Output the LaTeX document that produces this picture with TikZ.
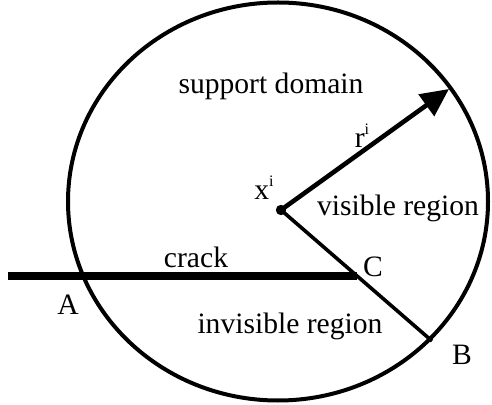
\documentclass[tikz,border=0pt]{standalone}
\usepackage{fontspec}
\setmainfont{Liberation Serif}
\usetikzlibrary{arrows.meta, positioning}

\newcommand{\supi}{\raisebox{0.95ex}{\fontsize{8}{8}\selectfont i}}

\begin{document}
\begin{tikzpicture}[
  x=0.5pt, y=-0.5pt,
  >={Triangle[length=14pt, width=13pt]},
  font=\fontsize{14.8}{16}\selectfont,
  lbl/.style={inner sep=1pt},
  supportline/.style={line width=2pt},
  crackline/.style={line width=4.2pt},
  ray/.style={->, line width=2.3pt},
  bline/.style={line width=1.8pt},
]
  \useasboundingbox (0,0) rectangle (492,405);

  % Support domain
  \draw[supportline] (278,201.5) ellipse [x radius=105pt, y radius=99.5pt];

  % Points
  \coordinate (xi) at (281,210);
  \coordinate (tip) at (449,89);
  \coordinate (start) at (8,276);
  \coordinate (C) at (357,276);
  \coordinate (B) at (432,341);
  \fill (xi) circle [radius=2.6pt];

  % Crack and rays
  \draw[crackline] (start) -- (C);
  \draw[bline] (xi) -- (B);
  \draw[ray] (xi) -- (tip);

  % Labels
  \node[lbl] (sd) at (271,86) {support domain};
  \node[lbl] (r) at (362,136) {r\supi};
  \node[lbl] (x) at (264,188) {x\supi};
  \node[lbl] (vis) at (398,208) {visible region};
  \node[lbl] (crk) at (196,257) {crack};
  \node[lbl] (lc) at (373,267) {C};
  \node[lbl] (la) at (68,305) {A};
  \node[lbl] (inv) at (290,326) {invisible region};
  \node[lbl] (lb) at (462,355) {B};

\end{tikzpicture}
\end{document}
